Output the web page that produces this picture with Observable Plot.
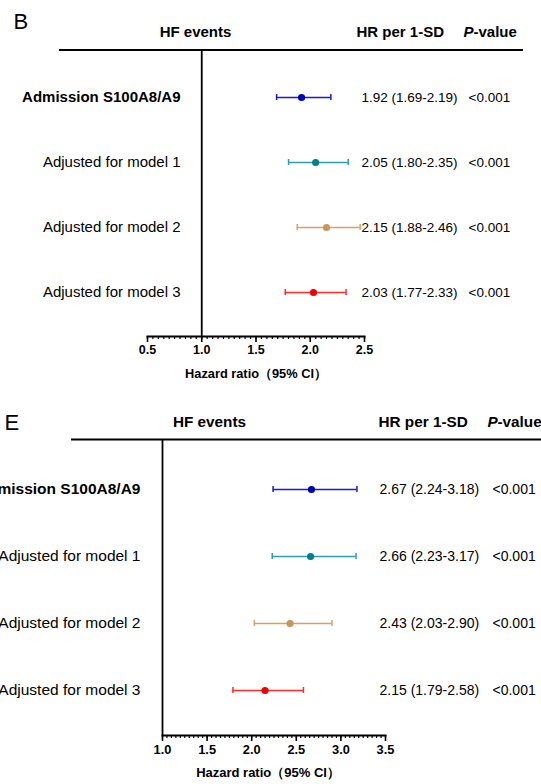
<!DOCTYPE html>
<html>
<head>
<meta charset="utf-8">
<script src="https://cdn.jsdelivr.net/npm/d3@7"></script>
<script src="https://cdn.jsdelivr.net/npm/@observablehq/plot@0.6"></script>
<style>
  body { margin: 0; background: #fff; }
  svg { display: block; }
</style>
</head>
<body>
<script>
// ---- data ----
const rowLabels = ["Admission S100A8/A9", "Adjusted for model 1", "Adjusted for model 2", "Adjusted for model 3"];
const lineColors = ["#1a1ad6", "#2e9bbb", "#d9a15e", "#ff2a2a"];
const dotColors = ["#0000b4", "#007f8c", "#c8955a", "#f00000"];

const hrB = [1.92, 2.05, 2.15, 2.03];
const lowB = [1.69, 1.80, 1.88, 1.77];
const highB = [2.19, 2.35, 2.46, 2.33];
const pB = ["<0.001", "<0.001", "<0.001", "<0.001"];
const ticksB = [0.5, 1.0, 1.5, 2.0, 2.5];

const hrE = [2.67, 2.66, 2.43, 2.15];
const lowE = [2.24, 2.23, 2.03, 1.79];
const highE = [3.18, 3.17, 2.90, 2.58];
const pE = ["<0.001", "<0.001", "<0.001", "<0.001"];
const ticksE = [1.0, 1.5, 2.0, 2.5, 3.0, 3.5];

const headerTexts = ["HF events", "HR per 1-SD", "P", "-value"];
const axisTitle = "Hazard ratio\uFF0895% CI\uFF09";
const refValue = 1;

// ---- layout ----
const layoutB = {
  height: 390, left: 147, right: 364, top: 49, bottom: 336, headerY: 31.5, lastY: 292,
  lineDy: 17.5, lineInsetLeft: -88, lineInsetRight: -159,
  labelDx: 33, hfDx: 48, hrDx: -8, pvDx: 99, ciDx: -3, pDx: 104,
  letterDx: -134, letterDy: -11, titleDx: 0, titleDy: 41,
  labelSize: 15, ciSize: 13.5, headSize: 15, tickSize: 12.5, titleSize: 12.8
};
const layoutE = {
  height: 394, left: 162, right: 385, top: 49, bottom: 345, headerY: 32, lastY: 300,
  lineDy: 17, lineInsetLeft: -91, lineInsetRight: -160,
  labelDx: -22, hfDx: 47, hrDx: -7, pvDx: 102, ciDx: -6, pDx: 107,
  letterDx: -158, letterDy: 0.5, titleDx: -6, titleDy: 41,
  labelSize: 15.5, ciSize: 14, headSize: 15.3, tickSize: 12.8, titleSize: 13
};

function panel(letter, hr, low, high, p, ticks, L) {
  const rows = rowLabels.map((label, i) => ({
    label, hr: hr[i], low: low[i], high: high[i], p: p[i],
    line: lineColors[i], dot: dotColors[i],
    ci: `${hr[i].toFixed(2)} (${low[i].toFixed(2)}-${high[i].toFixed(2)})`
  }));
  const H = "header";
  const lo = ticks[0], hi = ticks[ticks.length - 1];
  const minor = d3.range(Math.round(lo * 20), Math.round(hi * 20) + 1).map(k => k / 20);
  const headerY = {y: () => H, text: d => d};
  const cap = {y1: "label", y2: "label", stroke: "line", strokeWidth: 1.5, insetTop: -3, insetBottom: -3};
  return Plot.plot({
    width: 541,
    height: L.height,
    marginLeft: L.left,
    marginRight: 541 - L.right,
    marginTop: L.top,
    marginBottom: L.height - L.bottom,
    style: {fontFamily: "'Liberation Sans', Arial, sans-serif", fontSize: "13px", color: "#000", background: "#fff", overflow: "visible"},
    x: {domain: [lo, hi], axis: null, label: null},
    y: {type: "point", domain: [H, ...rowLabels], range: [L.headerY, L.lastY], padding: 0, axis: null, label: null},
    color: {type: "identity"},
    marks: [
      // header rule
      Plot.ruleY([H], {dy: L.lineDy, insetLeft: L.lineInsetLeft, insetRight: L.lineInsetRight, strokeWidth: 2, stroke: "#000"}),
      // reference line
      Plot.ruleX([refValue], {strokeWidth: 1.8, stroke: "#000"}),
      // axis line
      Plot.frame({anchor: "bottom", strokeWidth: 2, stroke: "#000"}),
      // minor ticks
      Plot.axisX({ticks: minor, tickSize: 3, tickFormat: () => "", strokeWidth: 1.2, label: null}),
      // major ticks
      Plot.axisX({ticks, tickSize: 6, tickPadding: 3, tickFormat: d3.format(".1f"), strokeWidth: 1.6,
                  fontWeight: "bold", fontSize: L.tickSize, label: null}),
      Plot.text([axisTitle], {x: () => (lo + hi) / 2, frameAnchor: "bottom", textAnchor: "middle",
                              dx: L.titleDx, dy: L.titleDy, fontWeight: "bold", fontSize: L.titleSize}),
      // CI bars
      Plot.ruleY(rows, {y: "label", x1: "low", x2: "high", stroke: "line", strokeWidth: 1.6}),
      Plot.ruleX(rows, {x: "low", ...cap}),
      Plot.ruleX(rows, {x: "high", ...cap}),
      Plot.dot(rows, {x: "hr", y: "label", fill: "dot", r: 3.6}),
      // row labels
      Plot.text(rows, {filter: (d, i) => i === 0, y: "label", text: "label", frameAnchor: "left", textAnchor: "end",
                       dx: L.labelDx, fontSize: L.labelSize, fontWeight: "bold"}),
      Plot.text(rows, {filter: (d, i) => i > 0, y: "label", text: "label", frameAnchor: "left", textAnchor: "end",
                       dx: L.labelDx, fontSize: L.labelSize}),
      // value columns
      Plot.text(rows, {y: "label", text: "ci", frameAnchor: "right", textAnchor: "start", dx: L.ciDx, fontSize: L.ciSize}),
      Plot.text(rows, {y: "label", text: "p", frameAnchor: "right", textAnchor: "start", dx: L.pDx, fontSize: L.ciSize}),
      // headers
      Plot.text([headerTexts[0]], {...headerY, frameAnchor: "left", textAnchor: "middle", dx: L.hfDx, fontSize: L.headSize, fontWeight: "bold"}),
      Plot.text([headerTexts[1]], {...headerY, frameAnchor: "right", textAnchor: "start", dx: L.hrDx, fontSize: L.headSize, fontWeight: "bold"}),
      Plot.text([headerTexts[2]], {...headerY, frameAnchor: "right", textAnchor: "start", dx: L.pvDx, fontSize: L.headSize, fontWeight: "bold", fontStyle: "italic"}),
      Plot.text([headerTexts[3]], {...headerY, frameAnchor: "right", textAnchor: "start", dx: L.pvDx + 10, fontSize: L.headSize, fontWeight: "bold"}),
      // panel letter
      Plot.text([letter], {...headerY, frameAnchor: "left", textAnchor: "start", dx: L.letterDx, dy: L.letterDy, fontSize: 22})
    ]
  });
}

document.body.append(panel("B", hrB, lowB, highB, pB, ticksB, layoutB));
document.body.append(panel("E", hrE, lowE, highE, pE, ticksE, layoutE));
</script>
</body>
</html>
